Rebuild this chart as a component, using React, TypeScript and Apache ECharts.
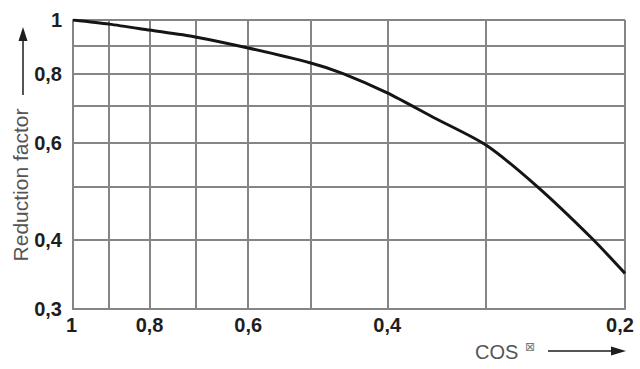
import React, { useEffect, useRef } from "react";
import * as echarts from "echarts";

const cosPhi = [1, 0.9, 0.8, 0.7, 0.6, 0.5, 0.455, 0.4, 0.35, 0.3, 0.2585, 0.22, 0.2];
const reduction = [1, 0.983, 0.959, 0.932, 0.89, 0.836, 0.8, 0.738, 0.667, 0.594, 0.5, 0.402, 0.348];
const xGridValues = [1, 0.9, 0.8, 0.7, 0.6, 0.5, 0.4, 0.3, 0.2];
const xLabelValues = [1, 0.8, 0.6, 0.4, 0.2];
const yGridValues = [0.3, 0.4, 0.5, 0.6, 0.7, 0.8, 0.9, 1];
const yLabelValues = [0.3, 0.4, 0.6, 0.8, 1];
const yTitle = "Reduction factor";
const xTitle = "COS";
const xTitleSymbol = "⊠";

const fmt = (v: number) => String(+v.toFixed(2)).replace(".", ",");

export default function App() {
  const ref = useRef<HTMLDivElement>(null);
  useEffect(() => {
    if (!ref.current) return;
    const chart = echarts.init(ref.current, undefined, { renderer: "svg" });
    const gridColor = "#858585";
    const labelStyle = {
      color: "#1e1e1e",
      fontFamily: "Liberation Sans, Arial, sans-serif",
      fontWeight: "bold" as const,
      fontSize: 20,
    };
    chart.setOption({
      animation: false,
      backgroundColor: "#ffffff",
      grid: { left: 73, right: 15, top: 20, bottom: 60, containLabel: false },
      xAxis: {
        type: "log",
        logBase: 10,
        min: 0.2,
        max: 1,
        inverse: true,
        axisLine: { show: true, lineStyle: { color: gridColor, width: 2 } },
        axisTick: { show: false, customValues: xGridValues },
        splitLine: { show: true, lineStyle: { color: gridColor, width: 2 } },
        axisLabel: {
          ...labelStyle,
          customValues: xLabelValues,
          margin: 6,
          formatter: (v: number) => {
            const s = fmt(v);
            if (Math.abs(v - 0.2) < 1e-6) return "{r|" + s + "}";
            if (Math.abs(v - 1) < 1e-6) return "{l|" + s + "}";
            return s;
          },
          rich: {
            r: { ...labelStyle, padding: [0, 10, 0, 0] },
            l: { ...labelStyle, padding: [0, 3, 0, 0] },
          },
        },
      },
      yAxis: {
        type: "log",
        logBase: 10,
        min: 0.3,
        max: 1,
        axisLine: { show: true, lineStyle: { color: gridColor, width: 2 } },
        axisTick: { show: false, customValues: yGridValues },
        splitLine: { show: true, lineStyle: { color: gridColor, width: 2 } },
        axisLabel: {
          ...labelStyle,
          customValues: yLabelValues,
          margin: 11,
          formatter: (v: number) => fmt(v),
        },
      },
      series: [
        {
          type: "line",
          data: cosPhi.map((x, i) => [x, reduction[i]]),
          showSymbol: false,
          smooth: 0.25,
          lineStyle: { color: "#151515", width: 3 },
          silent: true,
        },
      ],
      graphic: [
        {
          type: "text",
          x: 20,
          y: 185,
          rotation: Math.PI / 2,
          style: {
            text: yTitle,
            fill: "#555555",
            font: "21px 'Liberation Sans', Arial, sans-serif",
            textAlign: "center",
            textVerticalAlign: "middle",
          },
        },
        {
          type: "line",
          shape: { x1: 23, y1: 95, x2: 23, y2: 38 },
          style: { stroke: "#555555", lineWidth: 2 },
        },
        {
          type: "polygon",
          shape: { points: [[23, 27], [18.5, 41], [27.5, 41]] },
          style: { fill: "#1e1e1e" },
        },
        {
          type: "text",
          x: 475,
          y: 352,
          style: {
            text: xTitle,
            fill: "#555555",
            font: "20px 'Liberation Sans', Arial, sans-serif",
            textAlign: "left",
            textVerticalAlign: "middle",
          },
        },
        {
          type: "text",
          x: 530,
          y: 347,
          style: {
            text: xTitleSymbol,
            fill: "#777777",
            font: "12px 'DejaVu Sans', sans-serif",
            textAlign: "center",
            textVerticalAlign: "middle",
          },
        },
        {
          type: "line",
          shape: { x1: 548, y1: 351, x2: 614, y2: 351 },
          style: { stroke: "#555555", lineWidth: 2 },
        },
        {
          type: "polygon",
          shape: { points: [[626, 351], [611, 346.5], [611, 355.5]] },
          style: { fill: "#1e1e1e" },
        },
      ],
    });
    return () => chart.dispose();
  }, []);
  return (
    <div
      ref={ref}
      style={{ width: 640, height: 369, position: "absolute", left: 0, top: 0 }}
    />
  );
}
